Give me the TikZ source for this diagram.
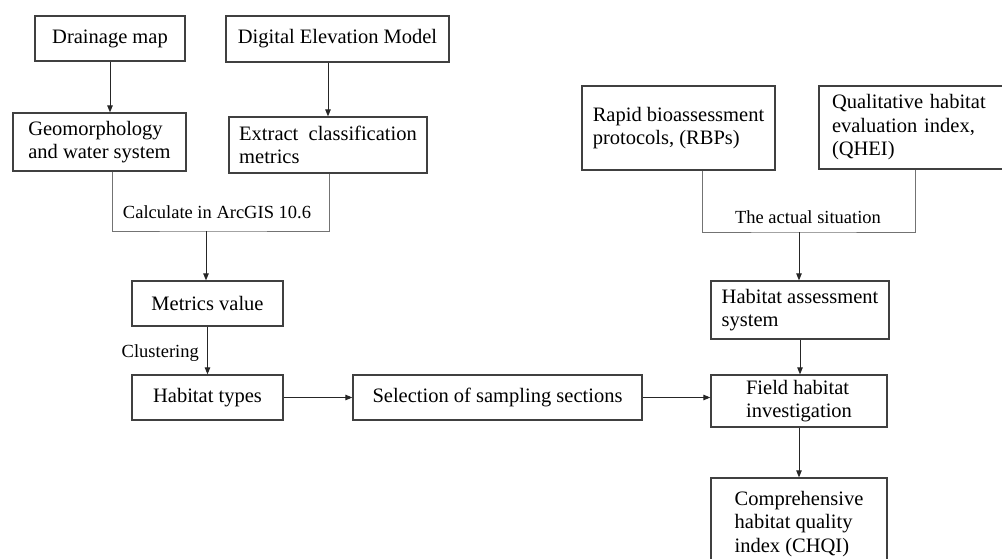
\documentclass[tikz,border=0pt]{standalone}
\usepackage{fontspec}
\setmainfont{Liberation Serif}
\usetikzlibrary{arrows.meta}
\tikzset{
  box/.style={draw=black!75, line width=1.3pt, rectangle, inner sep=0pt, align=left,
    font=\fontsize{20.5}{23.5}\selectfont},
  arr/.style={draw=black!85, line width=0.9pt, -{Triangle[length=7pt,width=5.5pt]}},
  brk/.style={draw=black!55, line width=0.9pt},
  lbl/.style={font=\fontsize{18.5}{21}\selectfont, inner sep=0pt}
}
\begin{document}
\begin{tikzpicture}[x=1pt,y=-1pt]
\useasboundingbox (0,0) rectangle (1002,559);
\clip (0,0) rectangle (1002,559);
\fill[white] (0,0) rectangle (1002,559);
% boxes
\node[box, minimum width=150pt, minimum height=45pt] (drain) at (110,38.5) {Drainage map};
\node[box, minimum width=223pt, minimum height=46pt] (dem) at (337.5,39) {Digital Elevation Model};
\node[box, minimum width=173pt, minimum height=58pt] (geo) at (99.5,142) {Geomorphology\\and water system};
\node[box, minimum width=198pt, minimum height=56pt] (ext) at (328,145) {Extract\ \ classification\\metrics};
\node[box, minimum width=151pt, minimum height=45pt] (metrics) at (207.5,303.5) {Metrics value};
\node[box, minimum width=151pt, minimum height=45pt] (htypes) at (207.5,397.5) {Habitat types};
\node[box, minimum width=289pt, minimum height=45pt] (sel) at (497.5,397.5) {Selection of sampling sections};
\node[box, minimum width=193pt, minimum height=84pt] (rbp) at (678.5,128) {Rapid bioassessment\\protocols, (RBPs)};
\node[box, minimum width=191pt, minimum height=83pt, text width=165pt] (qhei) at (914.5,127.5) {Qualitative habitat\\evaluation index,\\(QHEI)};
\node[box, minimum width=178pt, minimum height=58pt] (has) at (800,310) {Habitat assessment\\system};
\node[box, minimum width=176pt, minimum height=52pt] (field) at (799,401) {Field habitat\\investigation};
\node[box, minimum width=176pt, minimum height=92pt] (chqi) at (799,524) {Comprehensive\\habitat quality\\index (CHQI)};
% junctions
\coordinate (j1) at (206,231);
\coordinate (j2) at (799,232);
% connectors
\draw[arr] (drain.south) -- (drain.south |- geo.north);
\draw[arr] (ext.north |- dem.south) -- (ext.north);
\draw[brk] ([xshift=12.5pt]geo.south) |- (j1) -| ([xshift=1pt]ext.south);
\node[lbl] (calc) at (217,212) {Calculate in ArcGIS 10.6};
\draw[arr] (j1) -- (j1 |- metrics.north);
\draw[arr] (metrics.south) -- (htypes.north);
\node[lbl, anchor=east] (clus) at (199,353) {Clustering};
\draw[arr] (htypes.east) -- (sel.west);
\draw[arr] (sel.east) -- (sel.east -| field.west);
\draw[brk] ([xshift=23.5pt]rbp.south) |- (j2) -| ([xshift=0.5pt]qhei.south);
\node[lbl] (act) at (808,217) {The actual situation};
\draw[arr] (j2) -- (j2 |- has.north);
\draw[arr] (has.south) -- (has.south |- field.north);
\draw[arr] (field.south) -- (chqi.north);
\end{tikzpicture}
\end{document}
